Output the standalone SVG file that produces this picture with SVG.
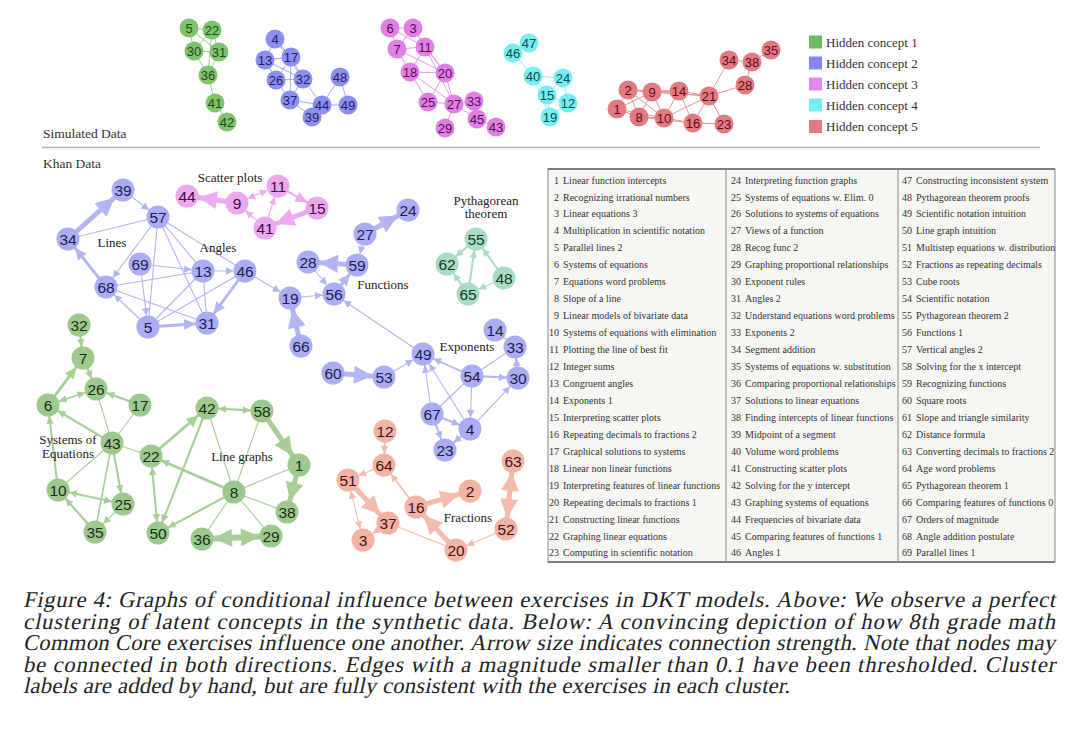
<svg xmlns="http://www.w3.org/2000/svg" width="1080" height="734" viewBox="0 0 1080 734">
<style>
text{font-family:'Liberation Sans',Arial,sans-serif}
.sn text{font-size:13px;text-anchor:middle}
.kn text{font-size:15.5px;text-anchor:middle}
.g1 circle{fill:#7ec46e}.g1 text{fill:#1f4a14}
.g2 circle{fill:#8b8ff0}.g2 text{fill:#1b1f6b}
.g3 circle{fill:#df80e2}.g3 text{fill:#560a5a}
.g4 circle{fill:#76eef0}.g4 text{fill:#0b4a4c}
.g5 circle{fill:#e37a80}.g5 text{fill:#5c0c16}
.se line{stroke-width:1}
.se1 line{stroke:#9ad28a}.se2 line{stroke:#a5a8f0}.se3 line{stroke:#e69be8}.se4 line{stroke:#8ef0f0}.se5 line{stroke:#e8959a}
.kb circle{fill:#aaadf3}.kb text{fill:#1a1c55}
.kg circle{fill:#9dc98e}.kg text{fill:#17300f}
.kp circle{fill:#eba8ef}.kp text{fill:#3e0a40}
.ks circle{fill:#f2b3a5}.ks text{fill:#3e1510}
.kt circle{fill:#a9dcc5}.kt text{fill:#123a2a}
.lab text{font-family:'Liberation Serif','Times New Roman',serif;font-size:13px;fill:#222;text-anchor:middle}
.leg text{font-family:'Liberation Serif','Times New Roman',serif;font-size:13px;fill:#333}
text.hd{font-family:'Liberation Serif','Times New Roman',serif;font-size:13.5px;fill:#333}
.eb{stroke:#b2b5f0}.eg{stroke:#a6cf98}.ep{stroke:#eeaaf0}.es{stroke:#f3baad}.et{stroke:#aadcc6}
.w1{stroke-width:1.1}.w15{stroke-width:1.6}.w2{stroke-width:2.1}.w3{stroke-width:2.9}.w5{stroke-width:5}.w6{stroke-width:6}
text.tb{font-family:'Liberation Serif','Times New Roman',serif;font-size:10px;fill:#333}
text.tn{text-anchor:end}
.cap text{font-family:'Liberation Serif','Times New Roman',serif;font-size:22.5px;fill:#222}
</style>
<defs>
<marker id="b-s" markerUnits="userSpaceOnUse" overflow="visible" orient="auto-start-reverse" markerWidth="1" markerHeight="1" refX="0" refY="0"><path d="M-11.5,0L-19,-3.8L-19,3.8Z" fill="#b2b5f0"/></marker>
<marker id="b-m" markerUnits="userSpaceOnUse" overflow="visible" orient="auto-start-reverse" markerWidth="1" markerHeight="1" refX="0" refY="0"><path d="M-11.5,0L-23,-5.5L-23,5.5Z" fill="#b2b5f0"/></marker>
<marker id="b-l" markerUnits="userSpaceOnUse" overflow="visible" orient="auto-start-reverse" markerWidth="1" markerHeight="1" refX="0" refY="0"><path d="M-11.5,0L-30,-9L-30,9Z" fill="#b2b5f0"/></marker>
<marker id="g-s" markerUnits="userSpaceOnUse" overflow="visible" orient="auto-start-reverse" markerWidth="1" markerHeight="1" refX="0" refY="0"><path d="M-11.5,0L-19,-3.8L-19,3.8Z" fill="#a6cf98"/></marker>
<marker id="g-m" markerUnits="userSpaceOnUse" overflow="visible" orient="auto-start-reverse" markerWidth="1" markerHeight="1" refX="0" refY="0"><path d="M-11.5,0L-23,-5.5L-23,5.5Z" fill="#a6cf98"/></marker>
<marker id="g-l" markerUnits="userSpaceOnUse" overflow="visible" orient="auto-start-reverse" markerWidth="1" markerHeight="1" refX="0" refY="0"><path d="M-11.5,0L-30,-9L-30,9Z" fill="#a6cf98"/></marker>
<marker id="p-s" markerUnits="userSpaceOnUse" overflow="visible" orient="auto-start-reverse" markerWidth="1" markerHeight="1" refX="0" refY="0"><path d="M-11.5,0L-19,-3.8L-19,3.8Z" fill="#eeaaf0"/></marker>
<marker id="p-m" markerUnits="userSpaceOnUse" overflow="visible" orient="auto-start-reverse" markerWidth="1" markerHeight="1" refX="0" refY="0"><path d="M-11.5,0L-23,-5.5L-23,5.5Z" fill="#eeaaf0"/></marker>
<marker id="p-l" markerUnits="userSpaceOnUse" overflow="visible" orient="auto-start-reverse" markerWidth="1" markerHeight="1" refX="0" refY="0"><path d="M-11.5,0L-30,-9L-30,9Z" fill="#eeaaf0"/></marker>
<marker id="s-s" markerUnits="userSpaceOnUse" overflow="visible" orient="auto-start-reverse" markerWidth="1" markerHeight="1" refX="0" refY="0"><path d="M-11.5,0L-19,-3.8L-19,3.8Z" fill="#f3baad"/></marker>
<marker id="s-l" markerUnits="userSpaceOnUse" overflow="visible" orient="auto-start-reverse" markerWidth="1" markerHeight="1" refX="0" refY="0"><path d="M-11.5,0L-30,-9L-30,9Z" fill="#f3baad"/></marker>
<marker id="t-s" markerUnits="userSpaceOnUse" overflow="visible" orient="auto-start-reverse" markerWidth="1" markerHeight="1" refX="0" refY="0"><path d="M-11.5,0L-19,-3.8L-19,3.8Z" fill="#aadcc6"/></marker>
</defs>
<rect width="1080" height="734" fill="#ffffff"/>

<!-- Simulated data connectors -->
<g id="sim-connectors" class="se">
<g class="se1">
<line x1="189" y1="28" x2="212" y2="30"/><line x1="189" y1="28" x2="194" y2="51"/><line x1="189" y1="28" x2="219" y2="52"/><line x1="212" y1="30" x2="194" y2="51"/><line x1="212" y1="30" x2="219" y2="52"/><line x1="212" y1="30" x2="208" y2="75"/><line x1="194" y1="51" x2="219" y2="52"/><line x1="194" y1="51" x2="208" y2="75"/><line x1="219" y1="52" x2="208" y2="75"/><line x1="208" y1="75" x2="215" y2="103"/><line x1="215" y1="103" x2="227" y2="122"/>
</g>
<g class="se2">
<line x1="275" y1="39" x2="265" y2="60"/><line x1="275" y1="39" x2="291" y2="57"/><line x1="275" y1="39" x2="303" y2="79"/><line x1="265" y1="60" x2="291" y2="57"/><line x1="265" y1="60" x2="276" y2="80"/><line x1="265" y1="60" x2="303" y2="79"/><line x1="291" y1="57" x2="276" y2="80"/><line x1="291" y1="57" x2="303" y2="79"/><line x1="291" y1="57" x2="290" y2="100"/><line x1="276" y1="80" x2="303" y2="79"/><line x1="276" y1="80" x2="290" y2="100"/><line x1="303" y1="79" x2="290" y2="100"/><line x1="303" y1="79" x2="322" y2="105"/><line x1="290" y1="100" x2="322" y2="105"/><line x1="290" y1="100" x2="312" y2="117"/><line x1="322" y1="105" x2="312" y2="117"/><line x1="322" y1="105" x2="340" y2="77"/><line x1="322" y1="105" x2="348" y2="105"/><line x1="340" y1="77" x2="348" y2="105"/>
</g>
<g class="se3">
<line x1="390" y1="28" x2="413" y2="28"/><line x1="390" y1="28" x2="397" y2="49"/><line x1="390" y1="28" x2="425" y2="47"/><line x1="413" y1="28" x2="397" y2="49"/><line x1="413" y1="28" x2="425" y2="47"/><line x1="413" y1="28" x2="445" y2="73"/><line x1="397" y1="49" x2="425" y2="47"/><line x1="397" y1="49" x2="410" y2="72"/><line x1="397" y1="49" x2="445" y2="73"/><line x1="425" y1="47" x2="410" y2="72"/><line x1="425" y1="47" x2="445" y2="73"/><line x1="425" y1="47" x2="454" y2="104"/><line x1="410" y1="72" x2="445" y2="73"/><line x1="410" y1="72" x2="428" y2="102"/><line x1="410" y1="72" x2="454" y2="104"/><line x1="445" y1="73" x2="428" y2="102"/><line x1="445" y1="73" x2="454" y2="104"/><line x1="428" y1="102" x2="454" y2="104"/><line x1="454" y1="104" x2="474" y2="101"/><line x1="454" y1="104" x2="477" y2="119"/><line x1="454" y1="104" x2="445" y2="128"/><line x1="477" y1="119" x2="496" y2="127"/>
</g>
<g class="se4">
<line x1="513" y1="53" x2="529" y2="43"/><line x1="513" y1="53" x2="533" y2="76"/><line x1="533" y1="76" x2="563" y2="78"/><line x1="533" y1="76" x2="547" y2="95"/><line x1="533" y1="76" x2="550" y2="117"/><line x1="563" y1="78" x2="547" y2="95"/><line x1="563" y1="78" x2="568" y2="103"/><line x1="547" y1="95" x2="568" y2="103"/><line x1="547" y1="95" x2="550" y2="117"/><line x1="550" y1="117" x2="568" y2="103"/>
</g>
<g class="se5">
<line x1="617" y1="109" x2="628" y2="90"/><line x1="617" y1="109" x2="652" y2="92"/><line x1="617" y1="109" x2="639" y2="117"/><line x1="617" y1="109" x2="664" y2="118"/><line x1="628" y1="90" x2="652" y2="92"/><line x1="628" y1="90" x2="639" y2="117"/><line x1="628" y1="90" x2="664" y2="118"/><line x1="628" y1="90" x2="679" y2="91"/><line x1="628" y1="90" x2="709" y2="96"/><line x1="652" y1="92" x2="639" y2="117"/><line x1="652" y1="92" x2="664" y2="118"/><line x1="652" y1="92" x2="679" y2="91"/><line x1="652" y1="92" x2="709" y2="96"/><line x1="639" y1="117" x2="664" y2="118"/><line x1="639" y1="117" x2="693" y2="123"/><line x1="664" y1="118" x2="679" y2="91"/><line x1="664" y1="118" x2="709" y2="96"/><line x1="664" y1="118" x2="693" y2="123"/><line x1="679" y1="91" x2="709" y2="96"/><line x1="679" y1="91" x2="693" y2="123"/><line x1="693" y1="123" x2="709" y2="96"/><line x1="693" y1="123" x2="724" y2="124"/><line x1="709" y1="96" x2="724" y2="124"/><line x1="709" y1="96" x2="745" y2="85"/><line x1="709" y1="96" x2="729" y2="60"/><line x1="729" y1="60" x2="752" y2="62"/><line x1="752" y1="62" x2="745" y2="85"/><line x1="752" y1="62" x2="771" y2="50"/>
</g>
</g>

<!-- Simulated data nodes -->
<g class="sn g1">
<g id="s5" transform="translate(189,28)"><circle r="9.5"/><text y="4.6">5</text></g>
<g id="s22" transform="translate(212,30)"><circle r="9.5"/><text y="4.6">22</text></g>
<g id="s30" transform="translate(194,51)"><circle r="9.5"/><text y="4.6">30</text></g>
<g id="s31" transform="translate(219,52)"><circle r="9.5"/><text y="4.6">31</text></g>
<g id="s36" transform="translate(208,75)"><circle r="9.5"/><text y="4.6">36</text></g>
<g id="s41" transform="translate(215,103)"><circle r="9.5"/><text y="4.6">41</text></g>
<g id="s42" transform="translate(227,122)"><circle r="9.5"/><text y="4.6">42</text></g>
</g>
<g class="sn g2">
<g id="s4" transform="translate(275,39)"><circle r="9.5"/><text y="4.6">4</text></g>
<g id="s13" transform="translate(265,60)"><circle r="9.5"/><text y="4.6">13</text></g>
<g id="s17" transform="translate(291,57)"><circle r="9.5"/><text y="4.6">17</text></g>
<g id="s26" transform="translate(276,80)"><circle r="9.5"/><text y="4.6">26</text></g>
<g id="s32" transform="translate(303,79)"><circle r="9.5"/><text y="4.6">32</text></g>
<g id="s37" transform="translate(290,100)"><circle r="9.5"/><text y="4.6">37</text></g>
<g id="s44" transform="translate(322,105)"><circle r="9.5"/><text y="4.6">44</text></g>
<g id="s48" transform="translate(340,77)"><circle r="9.5"/><text y="4.6">48</text></g>
<g id="s49" transform="translate(348,105)"><circle r="9.5"/><text y="4.6">49</text></g>
<g id="s39" transform="translate(312,117)"><circle r="9.5"/><text y="4.6">39</text></g>
</g>
<g class="sn g3">
<g id="s6" transform="translate(390,28)"><circle r="9.5"/><text y="4.6">6</text></g>
<g id="s3" transform="translate(413,28)"><circle r="9.5"/><text y="4.6">3</text></g>
<g id="s7" transform="translate(397,49)"><circle r="9.5"/><text y="4.6">7</text></g>
<g id="s11" transform="translate(425,47)"><circle r="9.5"/><text y="4.6">11</text></g>
<g id="s18" transform="translate(410,72)"><circle r="9.5"/><text y="4.6">18</text></g>
<g id="s20" transform="translate(445,73)"><circle r="9.5"/><text y="4.6">20</text></g>
<g id="s25" transform="translate(428,102)"><circle r="9.5"/><text y="4.6">25</text></g>
<g id="s27" transform="translate(454,104)"><circle r="9.5"/><text y="4.6">27</text></g>
<g id="s33" transform="translate(474,101)"><circle r="9.5"/><text y="4.6">33</text></g>
<g id="s45" transform="translate(477,119)"><circle r="9.5"/><text y="4.6">45</text></g>
<g id="s43" transform="translate(496,127)"><circle r="9.5"/><text y="4.6">43</text></g>
<g id="s29" transform="translate(445,128)"><circle r="9.5"/><text y="4.6">29</text></g>
</g>
<g class="sn g4">
<g id="s47" transform="translate(529,43)"><circle r="9.5"/><text y="4.6">47</text></g>
<g id="s46" transform="translate(513,53)"><circle r="9.5"/><text y="4.6">46</text></g>
<g id="s40" transform="translate(533,76)"><circle r="9.5"/><text y="4.6">40</text></g>
<g id="s24" transform="translate(563,78)"><circle r="9.5"/><text y="4.6">24</text></g>
<g id="s15" transform="translate(547,95)"><circle r="9.5"/><text y="4.6">15</text></g>
<g id="s12" transform="translate(568,103)"><circle r="9.5"/><text y="4.6">12</text></g>
<g id="s19" transform="translate(550,117)"><circle r="9.5"/><text y="4.6">19</text></g>
</g>
<g class="sn g5">
<g id="s2" transform="translate(628,90)"><circle r="9.5"/><text y="4.6">2</text></g>
<g id="s9" transform="translate(652,92)"><circle r="9.5"/><text y="4.6">9</text></g>
<g id="s14" transform="translate(679,91)"><circle r="9.5"/><text y="4.6">14</text></g>
<g id="s21" transform="translate(709,96)"><circle r="9.5"/><text y="4.6">21</text></g>
<g id="s1" transform="translate(617,109)"><circle r="9.5"/><text y="4.6">1</text></g>
<g id="s8" transform="translate(639,117)"><circle r="9.5"/><text y="4.6">8</text></g>
<g id="s10" transform="translate(664,118)"><circle r="9.5"/><text y="4.6">10</text></g>
<g id="s16" transform="translate(693,123)"><circle r="9.5"/><text y="4.6">16</text></g>
<g id="s23" transform="translate(724,124)"><circle r="9.5"/><text y="4.6">23</text></g>
<g id="s28" transform="translate(745,85)"><circle r="9.5"/><text y="4.6">28</text></g>
<g id="s34" transform="translate(729,60)"><circle r="9.5"/><text y="4.6">34</text></g>
<g id="s38" transform="translate(752,62)"><circle r="9.5"/><text y="4.6">38</text></g>
<g id="s35" transform="translate(771,50)"><circle r="9.5"/><text y="4.6">35</text></g>
</g>

<!-- Legend -->
<g id="legend" class="leg">
<rect x="809" y="35.5" width="13" height="13" fill="#6fb862"/><text x="826" y="46.5">Hidden concept 1</text>
<rect x="809" y="56.5" width="13" height="13" fill="#8585f0"/><text x="826" y="67.5">Hidden concept 2</text>
<rect x="809" y="77.5" width="13" height="13" fill="#e58ae8"/><text x="826" y="88.5">Hidden concept 3</text>
<rect x="809" y="98.5" width="13" height="13" fill="#78eef0"/><text x="826" y="109.5">Hidden concept 4</text>
<rect x="809" y="120" width="13" height="13" fill="#e37a80"/><text x="826" y="131">Hidden concept 5</text>
</g>

<text class="hd" x="43" y="138">Simulated Data</text>
<line x1="42" y1="147.5" x2="1040" y2="147.5" stroke="#b8b8b8" stroke-width="1.3"/>
<text class="hd" x="43" y="168">Khan Data</text>

<!-- Khan connectors -->
<g id="khan-connectors" fill="none">
<line class="eb w5" x1="68" y1="239" x2="123" y2="190" marker-end="url(#b-l)"/>
<line class="eb w1" x1="123" y1="190" x2="158" y2="217" marker-end="url(#b-s)"/>
<line class="eb w1" x1="158" y1="217" x2="68" y2="239"/>
<line class="eb w3" x1="106" y1="287" x2="68" y2="239" marker-end="url(#b-m)"/>
<line class="eb w1" x1="158" y1="217" x2="106" y2="287" marker-end="url(#b-s)"/>
<line class="eb w1" x1="158" y1="217" x2="148" y2="327"/>
<line class="eb w1" x1="158" y1="217" x2="207" y2="323"/>
<line class="eb w1" x1="158" y1="217" x2="203" y2="271"/>
<line class="eb w1" x1="158" y1="217" x2="245" y2="271"/>
<line class="eb w1" x1="140" y1="264" x2="203" y2="271" marker-end="url(#b-s)"/>
<line class="eb w1" x1="140" y1="264" x2="148" y2="327" marker-end="url(#b-s)"/>
<line class="eb w1" x1="106" y1="287" x2="203" y2="271"/>
<line class="eb w1" x1="106" y1="287" x2="207" y2="323"/>
<line class="eb w1" x1="148" y1="327" x2="106" y2="287" marker-end="url(#b-s)"/>
<line class="eb w3" x1="148" y1="327" x2="207" y2="323" marker-end="url(#b-m)"/>
<line class="eb w1" x1="148" y1="327" x2="203" y2="271"/>
<line class="eb w1" x1="148" y1="327" x2="245" y2="271"/>
<line class="eb w3" x1="245" y1="271" x2="207" y2="323" marker-end="url(#b-m)"/>
<line class="eb w1" x1="203" y1="271" x2="245" y2="271" marker-end="url(#b-s)"/>
<line class="eb w1" x1="203" y1="271" x2="207" y2="323"/>
<line class="eb w1" x1="245" y1="271" x2="290" y2="298" marker-end="url(#b-s)"/>
<line class="eb w1" x1="290" y1="298" x2="334" y2="294" marker-end="url(#b-s)"/>
<line class="eb w5" x1="301" y1="346" x2="290" y2="298" marker-end="url(#b-l)"/>
<line class="eb w5" x1="357" y1="265" x2="308" y2="262" marker-end="url(#b-l)"/>
<line class="eb w5" x1="365" y1="234" x2="408" y2="210" marker-end="url(#b-l)"/>
<line class="eb w1" x1="365" y1="234" x2="357" y2="265" marker-end="url(#b-s)"/>
<line class="eb w3" x1="334" y1="294" x2="357" y2="265" marker-end="url(#b-m)"/>
<line class="eb w1" x1="308" y1="262" x2="334" y2="294" marker-end="url(#b-s)"/>
<line class="eb w1" x1="423" y1="354" x2="334" y2="294" marker-end="url(#b-s)"/>
<line class="eb w5" x1="333" y1="373" x2="384" y2="377" marker-end="url(#b-l)"/>
<line class="eb w1" x1="384" y1="377" x2="423" y2="354" marker-end="url(#b-s)"/>
<line class="eb w15" x1="472" y1="376" x2="423" y2="354" marker-end="url(#b-s)"/>
<line class="eb w1" x1="432" y1="414" x2="423" y2="354" marker-end="url(#b-s)"/>
<line class="eb w1" x1="470" y1="429" x2="423" y2="354" marker-end="url(#b-s)"/>
<line class="eb w1" x1="432" y1="414" x2="472" y2="376"/>
<line class="eb w1" x1="472" y1="376" x2="470" y2="429" marker-end="url(#b-s)"/>
<line class="eb w2" x1="472" y1="376" x2="518" y2="378" marker-end="url(#b-s)"/>
<line class="eb w1" x1="472" y1="376" x2="515" y2="347"/>
<line class="eb w1" x1="495" y1="330" x2="515" y2="347"/>
<line class="eb w2" x1="518" y1="378" x2="515" y2="347" marker-end="url(#b-s)"/>
<line class="eb w1" x1="470" y1="429" x2="518" y2="378" marker-end="url(#b-s)"/>
<line class="eb w2" x1="432" y1="414" x2="470" y2="429" marker-end="url(#b-s)"/>
<line class="eb w2" x1="432" y1="414" x2="445" y2="450" marker-end="url(#b-s)"/>
<line class="eb w2" x1="470" y1="429" x2="445" y2="450" marker-end="url(#b-s)"/>

<line class="ep w5" x1="237" y1="203" x2="187" y2="196" marker-end="url(#p-l)"/>
<line class="ep w1" x1="237" y1="203" x2="278" y2="186" marker-start="url(#p-s)" marker-end="url(#p-s)"/>
<line class="ep w2" x1="278" y1="186" x2="317" y2="208" marker-end="url(#p-m)"/>
<line class="ep w5" x1="317" y1="208" x2="265" y2="228" marker-end="url(#p-l)"/>
<line class="ep w1" x1="265" y1="228" x2="237" y2="203" marker-end="url(#p-s)"/>
<line class="ep w1" x1="265" y1="228" x2="278" y2="186" marker-end="url(#p-s)"/>

<line class="et w2" x1="468" y1="294" x2="476" y2="239" marker-end="url(#t-s)"/>
<line class="et w2" x1="504" y1="278" x2="476" y2="239" marker-end="url(#t-s)"/>
<line class="et w2" x1="476" y1="239" x2="447" y2="264" marker-end="url(#t-s)"/>
<line class="et w2" x1="468" y1="294" x2="447" y2="264" marker-end="url(#t-s)"/>
<line class="et w1" x1="504" y1="278" x2="468" y2="294" marker-end="url(#t-s)"/>

<line class="eg w2" x1="79" y1="325" x2="83" y2="358" marker-end="url(#g-s)"/>
<line class="eg w2" x1="83" y1="358" x2="96" y2="389" marker-end="url(#g-s)"/>
<line class="eg w3" x1="48" y1="405" x2="83" y2="358" marker-end="url(#g-m)"/>
<line class="eg w15" x1="48" y1="405" x2="96" y2="389" marker-start="url(#g-s)" marker-end="url(#g-s)"/>
<line class="eg w2" x1="140" y1="405" x2="96" y2="389" marker-end="url(#g-s)"/>
<line class="eg w2" x1="112" y1="443" x2="48" y2="405" marker-end="url(#g-s)"/>
<line class="eg w1" x1="112" y1="443" x2="96" y2="389"/>
<line class="eg w1" x1="112" y1="443" x2="140" y2="405"/>
<line class="eg w1" x1="112" y1="443" x2="151" y2="456"/>
<line class="eg w2" x1="58" y1="490" x2="48" y2="405" marker-end="url(#g-s)"/>
<line class="eg w1" x1="112" y1="443" x2="58" y2="490"/>
<line class="eg w2" x1="112" y1="443" x2="123" y2="504" marker-end="url(#g-s)"/>
<line class="eg w15" x1="112" y1="443" x2="95" y2="532"/>
<line class="eg w2" x1="58" y1="490" x2="123" y2="504" marker-start="url(#g-s)" marker-end="url(#g-s)"/>
<line class="eg w2" x1="95" y1="532" x2="58" y2="490" marker-end="url(#g-s)"/>
<line class="eg w1" x1="123" y1="504" x2="95" y2="532" marker-end="url(#g-s)"/>
<line class="eg w3" x1="151" y1="456" x2="207" y2="408" marker-end="url(#g-m)"/>
<line class="eg w2" x1="207" y1="408" x2="262" y2="411" marker-start="url(#g-s)" marker-end="url(#g-s)"/>
<line class="eg w5" x1="262" y1="411" x2="299" y2="465" marker-end="url(#g-l)"/>
<line class="eg w5" x1="299" y1="465" x2="287" y2="512" marker-end="url(#g-l)"/>
<line class="eg w1" x1="207" y1="408" x2="234" y2="492"/>
<line class="eg w1" x1="262" y1="411" x2="234" y2="492"/>
<line class="eg w1" x1="299" y1="465" x2="234" y2="492"/>
<line class="eg w3" x1="234" y1="492" x2="151" y2="456" marker-end="url(#g-s)"/>
<line class="eg w2" x1="234" y1="492" x2="158" y2="533" marker-end="url(#g-s)"/>
<line class="eg w2" x1="207" y1="408" x2="158" y2="533" marker-end="url(#g-s)"/>
<line class="eg w2" x1="151" y1="456" x2="158" y2="533" marker-start="url(#g-s)" marker-end="url(#g-s)"/>
<line class="eg w1" x1="234" y1="492" x2="287" y2="512"/>
<line class="eg w1" x1="234" y1="492" x2="202" y2="539"/>
<line class="eg w1" x1="234" y1="492" x2="271" y2="536"/>
<line class="eg w6" x1="202" y1="539" x2="271" y2="536" marker-start="url(#g-l)" marker-end="url(#g-l)"/>

<line class="es w2" x1="385" y1="431" x2="384" y2="465" marker-end="url(#s-s)"/>
<line class="es w1" x1="384" y1="465" x2="348" y2="480" marker-end="url(#s-s)"/>
<line class="es w5" x1="348" y1="480" x2="388" y2="523" marker-end="url(#s-l)"/>
<line class="es w1" x1="348" y1="480" x2="363" y2="540" marker-start="url(#s-s)" marker-end="url(#s-s)"/>
<line class="es w1" x1="388" y1="523" x2="363" y2="540" marker-end="url(#s-s)"/>
<line class="es w15" x1="416" y1="507" x2="384" y2="465" marker-end="url(#s-s)"/>
<line class="es w5" x1="416" y1="507" x2="470" y2="491" marker-end="url(#s-l)"/>
<line class="es w5" x1="456" y1="550" x2="416" y2="507" marker-end="url(#s-l)"/>
<line class="es w1" x1="388" y1="523" x2="456" y2="550"/>
<line class="es w1" x1="506" y1="529" x2="456" y2="550" marker-end="url(#s-s)"/>
<line class="es w5" x1="506" y1="529" x2="513" y2="461" marker-start="url(#s-l)" marker-end="url(#s-l)"/>
</g>

<!-- Khan nodes -->
<g class="kn kb">
<g id="k39" transform="translate(123,190)"><circle r="11.5"/><text y="5.5">39</text></g>
<g id="k57" transform="translate(158,217)"><circle r="11.5"/><text y="5.5">57</text></g>
<g id="k34" transform="translate(68,239)"><circle r="11.5"/><text y="5.5">34</text></g>
<g id="k69" transform="translate(140,264)"><circle r="11.5"/><text y="5.5">69</text></g>
<g id="k13" transform="translate(203,271)"><circle r="11.5"/><text y="5.5">13</text></g>
<g id="k46" transform="translate(245,271)"><circle r="11.5"/><text y="5.5">46</text></g>
<g id="k68" transform="translate(106,287)"><circle r="11.5"/><text y="5.5">68</text></g>
<g id="k5" transform="translate(148,327)"><circle r="11.5"/><text y="5.5">5</text></g>
<g id="k31" transform="translate(207,323)"><circle r="11.5"/><text y="5.5">31</text></g>
<g id="k19" transform="translate(290,298)"><circle r="11.5"/><text y="5.5">19</text></g>
<g id="k56" transform="translate(334,294)"><circle r="11.5"/><text y="5.5">56</text></g>
<g id="k28" transform="translate(308,262)"><circle r="11.5"/><text y="5.5">28</text></g>
<g id="k59" transform="translate(357,265)"><circle r="11.5"/><text y="5.5">59</text></g>
<g id="k27" transform="translate(365,234)"><circle r="11.5"/><text y="5.5">27</text></g>
<g id="k24" transform="translate(408,210)"><circle r="11.5"/><text y="5.5">24</text></g>
<g id="k66" transform="translate(301,346)"><circle r="11.5"/><text y="5.5">66</text></g>
<g id="k60" transform="translate(333,373)"><circle r="11.5"/><text y="5.5">60</text></g>
<g id="k53" transform="translate(384,377)"><circle r="11.5"/><text y="5.5">53</text></g>
<g id="k49" transform="translate(423,354)"><circle r="11.5"/><text y="5.5">49</text></g>
<g id="k14" transform="translate(495,330)"><circle r="11.5"/><text y="5.5">14</text></g>
<g id="k33" transform="translate(515,347)"><circle r="11.5"/><text y="5.5">33</text></g>
<g id="k54" transform="translate(472,376)"><circle r="11.5"/><text y="5.5">54</text></g>
<g id="k30" transform="translate(518,378)"><circle r="11.5"/><text y="5.5">30</text></g>
<g id="k67" transform="translate(432,414)"><circle r="11.5"/><text y="5.5">67</text></g>
<g id="k4" transform="translate(470,429)"><circle r="11.5"/><text y="5.5">4</text></g>
<g id="k23" transform="translate(445,450)"><circle r="11.5"/><text y="5.5">23</text></g>
</g>
<g class="kn kp">
<g id="k44" transform="translate(187,196)"><circle r="11.5"/><text y="5.5">44</text></g>
<g id="k9" transform="translate(237,203)"><circle r="11.5"/><text y="5.5">9</text></g>
<g id="k11" transform="translate(278,186)"><circle r="11.5"/><text y="5.5">11</text></g>
<g id="k15" transform="translate(317,208)"><circle r="11.5"/><text y="5.5">15</text></g>
<g id="k41" transform="translate(265,228)"><circle r="11.5"/><text y="5.5">41</text></g>
</g>
<g class="kn kt">
<g id="k55" transform="translate(476,239)"><circle r="11.5"/><text y="5.5">55</text></g>
<g id="k62" transform="translate(447,264)"><circle r="11.5"/><text y="5.5">62</text></g>
<g id="k48" transform="translate(504,278)"><circle r="11.5"/><text y="5.5">48</text></g>
<g id="k65" transform="translate(468,294)"><circle r="11.5"/><text y="5.5">65</text></g>
</g>
<g class="kn kg">
<g id="k32" transform="translate(79,325)"><circle r="11.5"/><text y="5.5">32</text></g>
<g id="k7" transform="translate(83,358)"><circle r="11.5"/><text y="5.5">7</text></g>
<g id="k26" transform="translate(96,389)"><circle r="11.5"/><text y="5.5">26</text></g>
<g id="k6" transform="translate(48,405)"><circle r="11.5"/><text y="5.5">6</text></g>
<g id="k17" transform="translate(140,405)"><circle r="11.5"/><text y="5.5">17</text></g>
<g id="k43" transform="translate(112,443)"><circle r="11.5"/><text y="5.5">43</text></g>
<g id="k22" transform="translate(151,456)"><circle r="11.5"/><text y="5.5">22</text></g>
<g id="k10" transform="translate(58,490)"><circle r="11.5"/><text y="5.5">10</text></g>
<g id="k25" transform="translate(123,504)"><circle r="11.5"/><text y="5.5">25</text></g>
<g id="k35" transform="translate(95,532)"><circle r="11.5"/><text y="5.5">35</text></g>
<g id="k42" transform="translate(207,408)"><circle r="11.5"/><text y="5.5">42</text></g>
<g id="k58" transform="translate(262,411)"><circle r="11.5"/><text y="5.5">58</text></g>
<g id="k1" transform="translate(299,465)"><circle r="11.5"/><text y="5.5">1</text></g>
<g id="k8" transform="translate(234,492)"><circle r="11.5"/><text y="5.5">8</text></g>
<g id="k38" transform="translate(287,512)"><circle r="11.5"/><text y="5.5">38</text></g>
<g id="k50" transform="translate(158,533)"><circle r="11.5"/><text y="5.5">50</text></g>
<g id="k36" transform="translate(202,539)"><circle r="11.5"/><text y="5.5">36</text></g>
<g id="k29" transform="translate(271,536)"><circle r="11.5"/><text y="5.5">29</text></g>
</g>
<g class="kn ks">
<g id="k12" transform="translate(385,431)"><circle r="11.5"/><text y="5.5">12</text></g>
<g id="k64" transform="translate(384,465)"><circle r="11.5"/><text y="5.5">64</text></g>
<g id="k51" transform="translate(348,480)"><circle r="11.5"/><text y="5.5">51</text></g>
<g id="k16" transform="translate(416,507)"><circle r="11.5"/><text y="5.5">16</text></g>
<g id="k2" transform="translate(470,491)"><circle r="11.5"/><text y="5.5">2</text></g>
<g id="k37" transform="translate(388,523)"><circle r="11.5"/><text y="5.5">37</text></g>
<g id="k3" transform="translate(363,540)"><circle r="11.5"/><text y="5.5">3</text></g>
<g id="k20" transform="translate(456,550)"><circle r="11.5"/><text y="5.5">20</text></g>
<g id="k52" transform="translate(506,529)"><circle r="11.5"/><text y="5.5">52</text></g>
<g id="k63" transform="translate(513,461)"><circle r="11.5"/><text y="5.5">63</text></g>
</g>

<!-- Cluster labels -->
<g id="cluster-labels" class="lab">
<text x="230" y="182">Scatter plots</text>
<text x="112" y="247">Lines</text>
<text x="218" y="252">Angles</text>
<text x="486" y="205">Pythagorean</text>
<text x="486" y="218">theorem</text>
<text x="383" y="289">Functions</text>
<text x="467" y="351">Exponents</text>
<text x="68" y="444">Systems of</text>
<text x="68" y="458">Equations</text>
<text x="242" y="461">Line graphs</text>
<text x="468" y="522">Fractions</text>
</g>

<!-- Table -->
<g id="table">
<rect x="548" y="169" width="507" height="393" fill="#f6f6f3" stroke="#888" stroke-width="1"/>
<line x1="548" y1="169" x2="1055" y2="169" stroke="#666" stroke-width="1.6"/>
<line x1="548" y1="562" x2="1055" y2="562" stroke="#666" stroke-width="1.6"/>
<line x1="726" y1="169" x2="726" y2="562" stroke="#888"/>
<line x1="898" y1="169" x2="898" y2="562" stroke="#888"/>
<text class="tb tn"><tspan x="559" y="183.5">1</tspan><tspan x="559" y="200.5">2</tspan><tspan x="559" y="217.4">3</tspan><tspan x="559" y="234.4">4</tspan><tspan x="559" y="251.3">5</tspan><tspan x="559" y="268.3">6</tspan><tspan x="559" y="285.2">7</tspan><tspan x="559" y="302.2">8</tspan><tspan x="559" y="319.1">9</tspan><tspan x="559" y="336.1">10</tspan><tspan x="559" y="353">11</tspan><tspan x="559" y="370">12</tspan><tspan x="559" y="386.9">13</tspan><tspan x="559" y="403.9">14</tspan><tspan x="559" y="420.8">15</tspan><tspan x="559" y="437.8">16</tspan><tspan x="559" y="454.7">17</tspan><tspan x="559" y="471.7">18</tspan><tspan x="559" y="488.6">19</tspan><tspan x="559" y="505.6">20</tspan><tspan x="559" y="522.5">21</tspan><tspan x="559" y="539.5">22</tspan><tspan x="559" y="556.4">23</tspan></text>
<text class="tb"><tspan x="563" y="183.5">Linear function intercepts</tspan><tspan x="563" y="200.5">Recognizing irrational numbers</tspan><tspan x="563" y="217.4">Linear equations 3</tspan><tspan x="563" y="234.4">Multiplication in scientific notation</tspan><tspan x="563" y="251.3">Parallel lines 2</tspan><tspan x="563" y="268.3">Systems of equations</tspan><tspan x="563" y="285.2">Equations word problems</tspan><tspan x="563" y="302.2">Slope of a line</tspan><tspan x="563" y="319.1">Linear models of bivariate data</tspan><tspan x="563" y="336.1">Systems of equations with elimination</tspan><tspan x="563" y="353">Plotting the line of best fit</tspan><tspan x="563" y="370">Integer sums</tspan><tspan x="563" y="386.9">Congruent angles</tspan><tspan x="563" y="403.9">Exponents 1</tspan><tspan x="563" y="420.8">Interpreting scatter plots</tspan><tspan x="563" y="437.8">Repeating decimals to fractions 2</tspan><tspan x="563" y="454.7">Graphical solutions to systems</tspan><tspan x="563" y="471.7">Linear non linear functions</tspan><tspan x="563" y="488.6">Interpreting features of linear functions</tspan><tspan x="563" y="505.6">Repeating decimals to fractions 1</tspan><tspan x="563" y="522.5">Constructing linear functions</tspan><tspan x="563" y="539.5">Graphing linear equations</tspan><tspan x="563" y="556.4">Computing in scientific notation</tspan></text>
<text class="tb tn"><tspan x="741" y="183.5">24</tspan><tspan x="741" y="200.5">25</tspan><tspan x="741" y="217.4">26</tspan><tspan x="741" y="234.4">27</tspan><tspan x="741" y="251.3">28</tspan><tspan x="741" y="268.3">29</tspan><tspan x="741" y="285.2">30</tspan><tspan x="741" y="302.2">31</tspan><tspan x="741" y="319.1">32</tspan><tspan x="741" y="336.1">33</tspan><tspan x="741" y="353">34</tspan><tspan x="741" y="370">35</tspan><tspan x="741" y="386.9">36</tspan><tspan x="741" y="403.9">37</tspan><tspan x="741" y="420.8">38</tspan><tspan x="741" y="437.8">39</tspan><tspan x="741" y="454.7">40</tspan><tspan x="741" y="471.7">41</tspan><tspan x="741" y="488.6">42</tspan><tspan x="741" y="505.6">43</tspan><tspan x="741" y="522.5">44</tspan><tspan x="741" y="539.5">45</tspan><tspan x="741" y="556.4">46</tspan></text>
<text class="tb"><tspan x="745" y="183.5">Interpreting function graphs</tspan><tspan x="745" y="200.5">Systems of equations w. Elim. 0</tspan><tspan x="745" y="217.4">Solutions to systems of equations</tspan><tspan x="745" y="234.4">Views of a function</tspan><tspan x="745" y="251.3">Recog func 2</tspan><tspan x="745" y="268.3">Graphing proportional relationships</tspan><tspan x="745" y="285.2">Exponent rules</tspan><tspan x="745" y="302.2">Angles 2</tspan><tspan x="745" y="319.1">Understand equations word problems</tspan><tspan x="745" y="336.1">Exponents 2</tspan><tspan x="745" y="353">Segment addition</tspan><tspan x="745" y="370">Systems of equations w. substitution</tspan><tspan x="745" y="386.9">Comparing proportional relationships</tspan><tspan x="745" y="403.9">Solutions to linear equations</tspan><tspan x="745" y="420.8">Finding intercepts of linear functions</tspan><tspan x="745" y="437.8">Midpoint of a segment</tspan><tspan x="745" y="454.7">Volume word problems</tspan><tspan x="745" y="471.7">Constructing scatter plots</tspan><tspan x="745" y="488.6">Solving for the y intercept</tspan><tspan x="745" y="505.6">Graphing systems of equations</tspan><tspan x="745" y="522.5">Frequencies of bivariate data</tspan><tspan x="745" y="539.5">Comparing features of functions 1</tspan><tspan x="745" y="556.4">Angles 1</tspan></text>
<text class="tb tn"><tspan x="912" y="183.5">47</tspan><tspan x="912" y="200.5">48</tspan><tspan x="912" y="217.4">49</tspan><tspan x="912" y="234.4">50</tspan><tspan x="912" y="251.3">51</tspan><tspan x="912" y="268.3">52</tspan><tspan x="912" y="285.2">53</tspan><tspan x="912" y="302.2">54</tspan><tspan x="912" y="319.1">55</tspan><tspan x="912" y="336.1">56</tspan><tspan x="912" y="353">57</tspan><tspan x="912" y="370">58</tspan><tspan x="912" y="386.9">59</tspan><tspan x="912" y="403.9">60</tspan><tspan x="912" y="420.8">61</tspan><tspan x="912" y="437.8">62</tspan><tspan x="912" y="454.7">63</tspan><tspan x="912" y="471.7">64</tspan><tspan x="912" y="488.6">65</tspan><tspan x="912" y="505.6">66</tspan><tspan x="912" y="522.5">67</tspan><tspan x="912" y="539.5">68</tspan><tspan x="912" y="556.4">69</tspan></text>
<text class="tb"><tspan x="916" y="183.5">Constructing inconsistent system</tspan><tspan x="916" y="200.5">Pythagorean theorem proofs</tspan><tspan x="916" y="217.4">Scientific notation intuition</tspan><tspan x="916" y="234.4">Line graph intuition</tspan><tspan x="916" y="251.3">Multistep equations w. distribution</tspan><tspan x="916" y="268.3">Fractions as repeating decimals</tspan><tspan x="916" y="285.2">Cube roots</tspan><tspan x="916" y="302.2">Scientific notation</tspan><tspan x="916" y="319.1">Pythagorean theorem 2</tspan><tspan x="916" y="336.1">Functions 1</tspan><tspan x="916" y="353">Vertical angles 2</tspan><tspan x="916" y="370">Solving for the x intercept</tspan><tspan x="916" y="386.9">Recognizing functions</tspan><tspan x="916" y="403.9">Square roots</tspan><tspan x="916" y="420.8">Slope and triangle similarity</tspan><tspan x="916" y="437.8">Distance formula</tspan><tspan x="916" y="454.7">Converting decimals to fractions 2</tspan><tspan x="916" y="471.7">Age word problems</tspan><tspan x="916" y="488.6">Pythagorean theorem 1</tspan><tspan x="916" y="505.6">Comparing features of functions 0</tspan><tspan x="916" y="522.5">Orders of magnitude</tspan><tspan x="916" y="539.5">Angle addition postulate</tspan><tspan x="916" y="556.4">Parallel lines 1</tspan></text>
</g>

<!-- Caption (oblique via skew) -->
<g id="caption" class="cap">
<g transform="translate(23,607) skewX(-12)"><text x="0" y="0" textLength="1032" lengthAdjust="spacing">Figure 4: Graphs of conditional influence between exercises in DKT models. Above: We observe a perfect</text></g>
<g transform="translate(23,628.5) skewX(-12)"><text x="0" y="0" textLength="1032" lengthAdjust="spacing">clustering of latent concepts in the synthetic data. Below: A convincing depiction of how 8th grade math</text></g>
<g transform="translate(23,650) skewX(-12)"><text x="0" y="0" textLength="1032" lengthAdjust="spacing">Common Core exercises influence one another. Arrow size indicates connection strength. Note that nodes may</text></g>
<g transform="translate(23,671.5) skewX(-12)"><text x="0" y="0" textLength="1032" lengthAdjust="spacing">be connected in both directions. Edges with a magnitude smaller than 0.1 have been thresholded. Cluster</text></g>
<g transform="translate(23,693) skewX(-12)"><text x="0" y="0" textLength="767" lengthAdjust="spacing">labels are added by hand, but are fully consistent with the exercises in each cluster.</text></g>
</g>
</svg>
